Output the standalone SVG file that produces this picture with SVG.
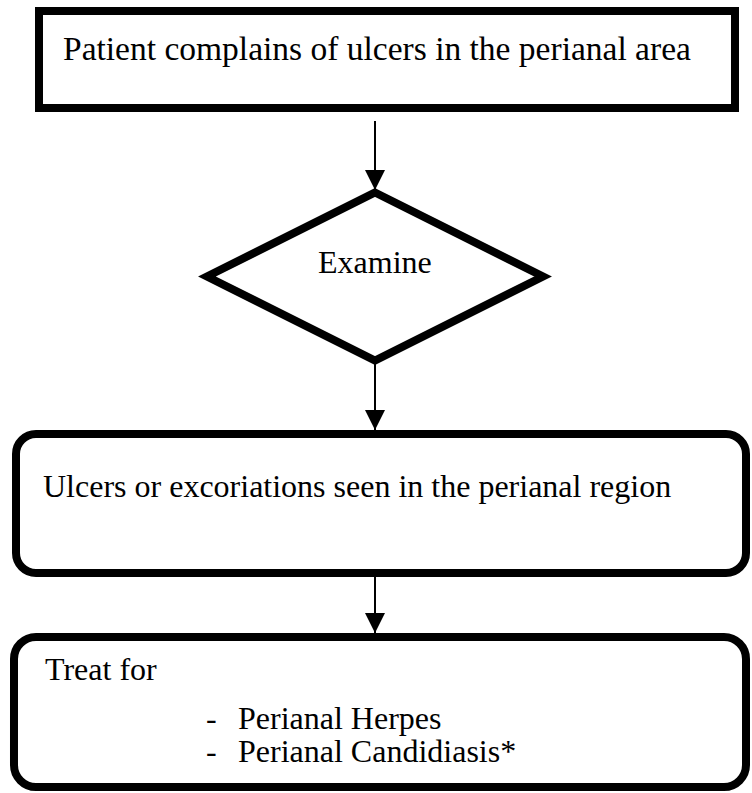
<svg xmlns="http://www.w3.org/2000/svg" width="752" height="793" viewBox="0 0 752 793">
  <style>
    .box { fill: #ffffff; stroke: #000000; stroke-width: 8; }
    .link { stroke: #000000; stroke-width: 2; fill: none; }
    .label { font-family: "Liberation Serif", "Times New Roman", "DejaVu Serif", serif; font-size: 32px; fill: #000000; }
  </style>
  <defs>
    <marker id="arrow" markerWidth="20" markerHeight="20" refX="20" refY="10" orient="auto" markerUnits="userSpaceOnUse">
      <path d="M0,0 L20,10 L0,20 Z" fill="#000000"/>
    </marker>
  </defs>
  <rect width="752" height="793" fill="#ffffff"/>

  <!-- connectors -->
  <g id="connectors">
    <line class="link" x1="375" y1="121" x2="375" y2="190" marker-end="url(#arrow)"/>
    <line class="link" x1="375" y1="361" x2="375" y2="430" marker-end="url(#arrow)"/>
    <line class="link" x1="375" y1="577" x2="375" y2="633" marker-end="url(#arrow)"/>
  </g>

  <!-- start: presenting complaint -->
  <g id="complaint">
    <rect class="box" x="39" y="11" width="696" height="97"/>
    <text class="label" x="63" y="60" style="font-size:33.5px">Patient complains of ulcers in the perianal area</text>
  </g>

  <!-- decision: examination -->
  <g id="examine">
    <polygon class="box" points="375,192.5 543,276.5 375,360.5 207,276.5"/>
    <text class="label" x="318" y="273">Examine</text>
  </g>

  <!-- finding -->
  <g id="finding">
    <rect class="box" x="16" y="434" width="730" height="139" rx="20" ry="20"/>
    <text class="label" x="43" y="497">Ulcers or excoriations seen in the perianal region</text>
  </g>

  <!-- treatment -->
  <g id="treatment">
    <rect class="box" x="14" y="637" width="732" height="150" rx="22" ry="22"/>
    <text class="label" x="45" y="680">Treat for</text>
    <text class="label" x="206" y="729">-</text>
    <text class="label" x="238" y="729">Perianal Herpes</text>
    <text class="label" x="206" y="762">-</text>
    <text class="label" x="238" y="762">Perianal Candidiasis*</text>
  </g>
</svg>
